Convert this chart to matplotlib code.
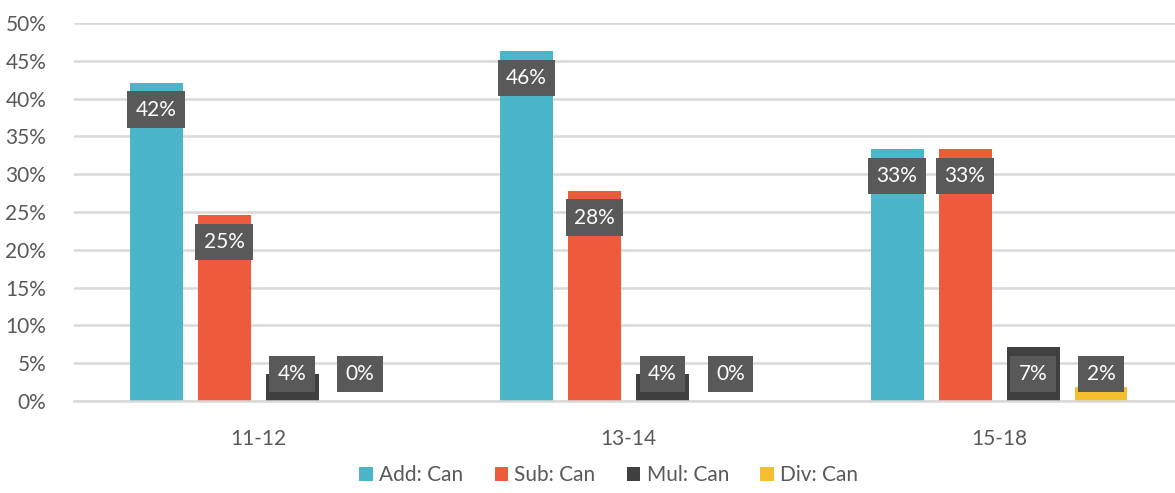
import matplotlib
matplotlib.use("Agg")
import matplotlib.pyplot as plt
import numpy as np

plt.rcParams['font.family'] = ['Lato', 'DejaVu Sans']

groups = ['11-12', '13-14', '15-18']
series = ['Add: Can', 'Sub: Can', 'Mul: Can', 'Div: Can']
add_can = [42.1, 46.3, 33.3]
sub_can = [24.6, 27.8, 33.3]
mul_can = [3.6, 3.6, 7.1]
div_can = [0.0, 0.0, 1.85]
colors = ['#4BB5CA', '#EE5A3C', '#404040', '#F5BE2F']

values = [add_can, sub_can, mul_can, div_can]
yticks = np.arange(0, 51, 5)

fig = plt.figure(figsize=(11.75, 4.93), dpi=100)
ax = fig.add_axes([74 / 1175, 1 - 401 / 493, 1 - 74 / 1175, (401 - 23) / 493])

x = np.arange(len(groups))
step = 0.1835
width = 0.143
grid_c = '#D9D9D9'
text_c = '#595959'

for i, (name, vals, c) in enumerate(zip(series, values, colors)):
    xs = x + (i - 1.5) * step
    ax.bar(xs, vals, width=width, color=c, label=name, zorder=2)
    for xv, v in zip(xs, vals):
        # label box sits just inside the bar top, but never below the floor
        yc = max(v - 3.56, 3.56)
        ax.text(xv, yc, f'{round(v):.0f}%', ha='center', va='center',
                fontsize=15, color='white', zorder=4,
                bbox=dict(boxstyle='square,pad=0.4', fc='#595959', ec='none'))

ax.set_ylim(0, 50)
ax.set_xlim(-0.497, 2.475)
ax.set_yticks(yticks)
ax.set_yticklabels([f'{t}%' for t in yticks])
ax.set_xticks(x)
ax.set_xticklabels(groups)
ax.tick_params(axis='both', length=0, labelsize=15, colors=text_c)
ax.tick_params(axis='y', pad=20)
ax.tick_params(axis='x', pad=20)
ax.grid(axis='y', color=grid_c, linewidth=1.8, zorder=0)
for s in ['top', 'right', 'left']:
    ax.spines[s].set_visible(False)
ax.spines['bottom'].set_color(grid_c)
ax.spines['bottom'].set_linewidth(1.8)

fig.legend(loc='lower center', ncol=4, frameon=False, fontsize=15,
           bbox_to_anchor=(0.518, -0.022), handlelength=0.65, handleheight=0.65,
           handletextpad=0.3, columnspacing=1.5, labelcolor=text_c)

fig.savefig('out.png', dpi=100)
